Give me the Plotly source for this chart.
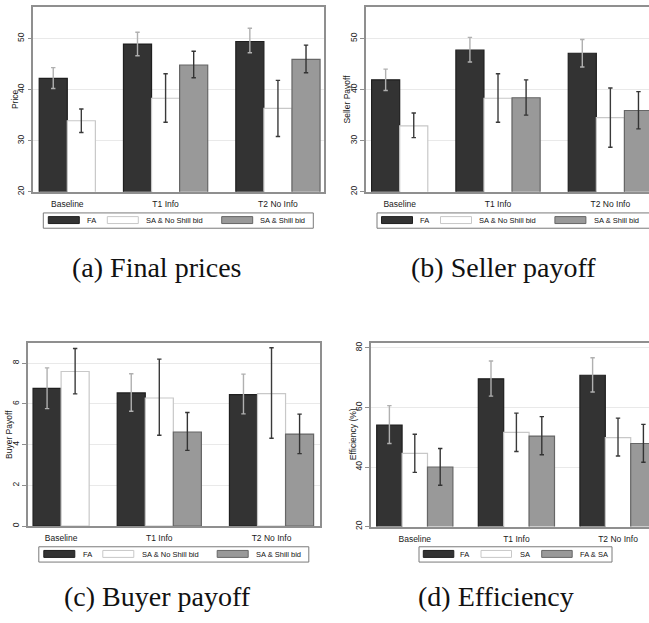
import plotly.graph_objects as go

W, H = 649, 623

groups = ["Baseline", "T1 Info", "T2 No Info"]
names_abc = ["FA", "SA & No Shill bid", "SA & Shill bid"]
names_d = ["FA", "SA", "FA & SA"]

# (a) Final prices: means and 95% interval bounds
price_fa = [42.2, 48.9, 49.4]
price_fa_hi = [44.3, 51.2, 52.0]
price_fa_lo = [40.2, 46.6, 47.2]
price_sa = [33.9, 38.3, 36.3]
price_sa_hi = [36.2, 43.1, 41.8]
price_sa_lo = [31.6, 33.6, 30.8]
price_sh = [None, 44.8, 45.9]
price_sh_hi = [None, 47.5, 48.7]
price_sh_lo = [None, 42.3, 43.3]

# (b) Seller payoff
seller_fa = [41.9, 47.7, 47.1]
seller_fa_hi = [44.0, 50.2, 49.8]
seller_fa_lo = [39.8, 45.4, 44.4]
seller_sa = [32.9, 38.3, 34.5]
seller_sa_hi = [35.4, 43.1, 40.3]
seller_sa_lo = [30.6, 33.6, 28.7]
seller_sh = [None, 38.4, 35.9]
seller_sh_hi = [None, 41.9, 39.6]
seller_sh_lo = [None, 35.0, 32.3]

# (c) Buyer payoff
buyer_fa = [6.76, 6.54, 6.46]
buyer_fa_hi = [7.77, 7.48, 7.46]
buyer_fa_lo = [5.77, 5.64, 5.51]
buyer_sa = [7.59, 6.29, 6.50]
buyer_sa_hi = [8.72, 8.20, 8.76]
buyer_sa_lo = [6.49, 4.46, 4.31]
buyer_sh = [None, 4.62, 4.52]
buyer_sh_hi = [None, 5.58, 5.50]
buyer_sh_lo = [None, 3.72, 3.56]

# (d) Efficiency (%)
eff_fa = [54.1, 69.6, 70.8]
eff_fa_hi = [60.6, 75.6, 76.7]
eff_fa_lo = [47.9, 63.8, 65.2]
eff_sa = [44.6, 51.6, 49.9]
eff_sa_hi = [51.0, 58.1, 56.4]
eff_sa_lo = [38.2, 45.2, 43.7]
eff_both = [40.0, 50.4, 47.9]
eff_both_hi = [46.2, 56.9, 54.3]
eff_both_lo = [33.9, 44.1, 41.6]

price_ticks = [20, 30, 40, 50]
seller_ticks = [20, 30, 40, 50]
buyer_ticks = [0, 2, 4, 6, 8]
eff_ticks = [20, 40, 60, 80]

captions = ["(a) Final prices", "(b) Seller payoff", "(c) Buyer payoff", "(d) Efficiency"]

# bar styles: fill, outline, error-bar colour
STYLES = [
    dict(fill="#333333", line="#1f1f1f", err="#b0b0b0"),
    dict(fill="#ffffff", line="#c8c8c8", err="#3a3a3a"),
    dict(fill="#999999", line="#666666", err="#333333"),
]
FRAME = "#8f8f8f"
GRID = "#e9e9e9"
SANS = "Liberation Sans, Arial, sans-serif"
SERIF = "Liberation Serif, Times New Roman, serif"


def fx(p):
    return p / W


def fy(p):
    return 1 - p / H


def bar_positions(series):
    """Consecutive slots within each group, one empty slot between groups."""
    pos = [[None] * len(groups) for _ in series]
    centers = []
    cur = 0
    for g in range(len(groups)):
        start = cur
        for s, (vals, _, _) in enumerate(series):
            if vals[g] is not None:
                pos[s][g] = cur
                cur += 1
        centers.append((start + cur - 1) / 2)
        cur += 1
    return pos, centers


fig = go.Figure()
shapes = []
annotations = []

panels = [
    dict(series=[(price_fa, price_fa_hi, price_fa_lo), (price_sa, price_sa_hi, price_sa_lo),
                 (price_sh, price_sh_hi, price_sh_lo)],
         names=names_abc, frame=(33.3, 324.0, 5.8, 192.0), xr=[-0.71, 9.64], yr=[20, 56.2],
         ticks=price_ticks, ytitle="Price", right=True,
         leg=dict(box=(43.3, 313.3, 213.3, 228.7), sw=[48.3, 107.3, 221.7], sww=31,
                  tx=[85.0, 144.0, 258.3]),
         cap=(157, 268)),
    dict(series=[(seller_fa, seller_fa_hi, seller_fa_lo), (seller_sa, seller_sa_hi, seller_sa_lo),
                 (seller_sh, seller_sh_hi, seller_sh_lo)],
         names=names_abc, frame=(365.7, 649.0, 5.8, 192.0), xr=[-0.71, 9.375], yr=[20, 56.2],
         ticks=seller_ticks, ytitle="Seller Payoff", right=False,
         leg=dict(box=(377.0, 652.0, 213.3, 228.7), sw=[381.5, 440.5, 554.9], sww=31,
                  tx=[418.2, 477.2, 591.5]),
         cap=(503, 268)),
    dict(series=[(buyer_fa, buyer_fa_hi, buyer_fa_lo), (buyer_sa, buyer_sa_hi, buyer_sa_lo),
                 (buyer_sh, buyer_sh_hi, buyer_sh_lo)],
         names=names_abc, frame=(28.0, 319.5, 344.0, 528.5), xr=[-0.68, 9.71], yr=[0, 9.0],
         ticks=buyer_ticks, ytitle="Buyer Payoff", right=True,
         leg=dict(box=(38.8, 308.8, 549.3, 564.7), sw=[43.8, 102.8, 217.2], sww=31,
                  tx=[80.5, 139.5, 253.8]),
         cap=(157, 599)),
    dict(series=[(eff_fa, eff_fa_hi, eff_fa_lo), (eff_sa, eff_sa_hi, eff_sa_lo),
                 (eff_both, eff_both_hi, eff_both_lo)],
         names=names_d, frame=(371.0, 649.0, 344.0, 529.0), xr=[-0.724, 10.22], yr=[20, 81.7],
         ticks=eff_ticks, ytitle="Efficiency (%)", right=False,
         leg=dict(box=(419.0, 612.0, 549.3, 564.7), sw=[423.3, 481.0, 541.7], sww=30.5,
                  tx=[458.3, 518.3, 578.3]),
         cap=(496, 599)),
]

layout_axes = {}
for k, p in enumerate(panels, start=1):
    sfx = "" if k == 1 else str(k)
    xref, yref = "x" + sfx, "y" + sfx
    pos, centers = bar_positions(p["series"])
    for s, (vals, hi, lo) in enumerate(p["series"]):
        st = STYLES[s]
        idx = [g for g in range(len(groups)) if vals[g] is not None]
        fig.add_trace(go.Bar(
            x=[pos[s][g] for g in idx],
            y=[vals[g] for g in idx],
            width=1.0,
            name=p["names"][s],
            showlegend=False,
            marker=dict(color=st["fill"], line=dict(color=st["line"], width=1.2)),
            error_y=dict(type="data", symmetric=False,
                         array=[hi[g] - vals[g] for g in idx],
                         arrayminus=[vals[g] - lo[g] for g in idx],
                         color=st["err"], thickness=1.4, width=2.2),
            xaxis=xref, yaxis=yref,
        ))

    x0, x1, y0, y1 = p["frame"]
    layout_axes["xaxis" + sfx] = dict(
        domain=[fx(x0), fx(x1)], range=p["xr"], anchor=yref,
        showline=True, linecolor=FRAME, linewidth=1.5, mirror=True,
        tickvals=centers, ticktext=groups, ticks="outside", ticklen=3,
        tickcolor="rgba(0,0,0,0)", tickfont=dict(family=SANS, size=8.5, color="#1a1a1a"),
        showgrid=False, zeroline=False, fixedrange=True,
    )
    layout_axes["yaxis" + sfx] = dict(
        domain=[fy(y1), fy(y0)], range=p["yr"], anchor=xref,
        showline=True, linecolor=FRAME, linewidth=1.5, mirror=p["right"],
        tickvals=p["ticks"], ticks="outside", ticklen=4, tickcolor=FRAME, tickwidth=1,
        tickangle=-90, tickfont=dict(family=SANS, size=8.5, color="#1a1a1a"),
        showgrid=True, gridcolor=GRID, gridwidth=1.3, zeroline=False, fixedrange=True,
    )

    # axis title
    annotations.append(dict(
        text=p["ytitle"], x=fx(x0 - 18.5), y=fy((y0 + y1) / 2), xref="paper", yref="paper",
        textangle=-90, showarrow=False, xanchor="center", yanchor="middle",
        font=dict(family=SANS, size=8.5, color="#1a1a1a"),
    ))

    # legend box with wide swatches
    lg = p["leg"]
    bx0, bx1, by0, by1 = lg["box"]
    shapes.append(dict(type="rect", xref="paper", yref="paper",
                       x0=fx(bx0), x1=fx(bx1), y0=fy(by1), y1=fy(by0),
                       line=dict(color="#7a7a7a", width=1), fillcolor="white"))
    sy0, sy1 = by0 + 3.7, by0 + 10.7
    for s in range(3):
        st = STYLES[s]
        shapes.append(dict(type="rect", xref="paper", yref="paper",
                           x0=fx(lg["sw"][s]), x1=fx(lg["sw"][s] + lg["sww"]),
                           y0=fy(sy1), y1=fy(sy0),
                           line=dict(color=st["line"], width=1), fillcolor=st["fill"]))
        annotations.append(dict(
            text=p["names"][s], x=fx(lg["tx"][s]), y=fy((by0 + by1) / 2),
            xref="paper", yref="paper", showarrow=False, xanchor="left", yanchor="middle",
            font=dict(family=SANS, size=7.5, color="#111111"),
        ))

    # panel caption
    cx, cy = p["cap"]
    annotations.append(dict(
        text=captions[k - 1], x=fx(cx), y=fy(cy), xref="paper", yref="paper",
        showarrow=False, xanchor="center", yanchor="middle",
        font=dict(family=SERIF, size=28, color="#111111"),
    ))

fig.update_layout(
    width=W, height=H,
    margin=dict(l=0, r=0, t=0, b=0),
    paper_bgcolor="white", plot_bgcolor="white",
    barmode="overlay", showlegend=False,
    shapes=shapes, annotations=annotations,
    **layout_axes,
)

fig.write_html("out.html")
